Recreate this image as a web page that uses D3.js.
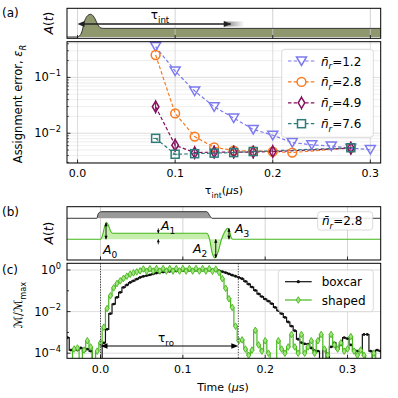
<!DOCTYPE html>
<html><head><meta charset="utf-8">
<script src="https://cdn.jsdelivr.net/npm/d3@7"></script>
<style>body{margin:0;background:#fff}svg{display:block;font-family:"DejaVu Sans",sans-serif}</style>
</head><body><svg id="c" width="398" height="398"></svg>
<script>
// ---------- DATA ----------
// Panel (a): assignment error vs integration time
const tauN12 = [0.08,0.10,0.12,0.14,0.16,0.18,0.20,0.22,0.24,0.26,0.28,0.30];
const errN12 = [0.356,0.130,0.057,0.0298,0.0187,0.0117,0.0092,0.0068,0.0062,0.0059,0.0054,0.0051];
const tauN28 = [0.08,0.10,0.12,0.14,0.16,0.18,0.20,0.22,0.28];
const errN28 = [0.252,0.0226,0.0087,0.0056,0.0049,0.0048,0.0047,0.0045,0.0055];
const tauN49 = [0.08,0.10,0.12,0.14,0.16,0.18,0.20,0.28];
const errN49 = [0.0298,0.0061,0.0045,0.0046,0.0046,0.0046,0.0047,0.0054];
const tauN76 = [0.08,0.10,0.12,0.14,0.16,0.18,0.28];
const errN76 = [0.0081,0.0042,0.0043,0.0044,0.0045,0.0047,0.0055];
const photonLabels = ["1.2","2.8","4.9","7.6"];
const xTicksA = [0.0,0.1,0.2,0.3];

// Panel (a) inset: pulse envelope A(t) (time in us, amplitude relative to plateau)
const pulseAT = [-0.011,0.0,0.002,0.004,0.0075,0.0105,0.0133,0.016,0.0177,0.021,0.0235,0.027,0.311];
const pulseAA = [0,0,0.15,0.46,1.95,2.5,2.64,2.45,2.15,1.38,1.07,1.0,1.0];

// Panel (b): boxcar and shaped drive envelopes
const boxT = [-0.041,-0.0046,-0.0025,0.0015,0.129,0.1335,0.1355,0.341];
const boxA = [0,0,0.75,1,1,0.25,0,0];
const shapeT = [-0.041,0.0,0.0025,0.005,0.0075,0.010,0.0125,0.015,0.129,0.1325,0.1355,0.139,0.1425,0.147,0.151,0.1545,0.157,0.159,0.161,0.341];
const shapeA = [0,0,0.7,2.1,2.77,2.2,1.3,1.0,1.0,0.0,-2.2,-3.1,-2.2,0.0,1.3,1.83,1.2,0.2,0,0];

// Panel (c): normalized measurement signal, log10(M/Mmax), sampled every 4 ns from -0.040 us
const tStart = -0.040, tStep = 0.004;
const boxcarLog = [
 -3.25,-3.85,-3.8,-3.85,-3.75,-3.9,-3.8,-3.9,-4.5,-4.5,
 -4.5,-3.5,-2.85,-2.1,-1.64,-1.32,-1.08,-0.84,-0.72,-0.6,
 -0.52,-0.44,-0.36,-0.31,-0.27,-0.23,-0.19,-0.15,-0.12,-0.10,
 -0.08,-0.07,-0.06,-0.05,-0.04,-0.03,-0.03,-0.02,-0.02,-0.01,
 -0.01,-0.01,0.0,0.0,0.0,0.0,-0.03,-0.08,-0.13,-0.19,
 -0.25,-0.30,-0.36,-0.42,-0.55,-0.68,-0.82,-0.98,-1.15,-1.28,
 -1.40,-1.50,-1.62,-1.80,-1.95,-2.10,-2.28,-2.50,-2.70,-2.92,
 -3.33,-3.49,-3.55,-3.57,-3.75,-3.88,-3.9,-4.5,-3.85,-4.5,
 -3.7,-3.5,-3.8,-3.6,-3.25,-3.3,-3.6,-3.85,-3.9,-3.9,
 -3.1,-3.1,-3.9,-4.5,-3.85,-3.9];
const shapedLog = [
 -4.5,-4.5,-3.8,-3.75,-4.5,-3.85,-3.4,-3.7,-4.5,-3.9,
 -3.5,-2.75,-1.85,-1.24,-0.86,-0.65,-0.52,-0.40,-0.30,-0.20,
 -0.14,-0.09,-0.04,0.05,-0.06,0.06,-0.05,0.07,-0.05,0.07,
 -0.05,0.07,-0.05,0.07,-0.05,0.07,-0.05,0.07,-0.05,0.07,
 -0.05,0.07,-0.05,0.06,-0.06,0.04,-0.12,-0.42,-0.88,-1.38,
 -1.8,-2.7,-3.4,-3.36,-3.8,-4.1,-3.85,-2.9,-3.6,-3.9,
 -3.4,-4.0,-4.5,-4.5,-3.4,-3.8,-4.0,-3.7,-3.1,-3.7,
 -4.0,-3.1,-4.0,-3.7,-3.4,-4.0,-3.4,-3.1,-3.8,-4.1,
 -3.1,-3.6,-3.8,-3.5,-3.9,-3.8,-3.2,-3.9,-4.1,-3.85,
 -4.1,-4.5,-4.5,-4.0,-4.5,-4.5];
const tauRo = 0.1674;
const xTicksC = [0.0,0.1,0.2,0.3];
const yTicksC = [0,-2,-4];

// ---------- DRAWING ----------
const svg = d3.select("#c");
const FONT = 11;
const grid = "#d4d4d4", gridMinor = "#e8e8e8";

function rich(sel, parts, fs){
  let off = 0;
  parts.forEach(p=>{
    const target = p.sub ? fs*0.32 : (p.sup ? -fs*0.45 : 0);
    const ts = sel.append("tspan").text(p.t).attr("dy", (target-off).toFixed(2))
      .attr("font-size", (p.sub||p.sup) ? fs*0.72 : fs);
    if (p.i) ts.attr("font-style","italic");
    off = target;
  });
  return sel;
}
function arrowHead(g, x, y, dir, L, W, color){
  let pts;
  if(dir==='l') pts=[[x,y],[x+L,y-W],[x+L,y+W]];
  if(dir==='r') pts=[[x,y],[x-L,y-W],[x-L,y+W]];
  if(dir==='u') pts=[[x,y],[x-W,y+L],[x+W,y+L]];
  if(dir==='d') pts=[[x,y],[x-W,y-L],[x+W,y-L]];
  g.append("path").attr("d","M"+pts.map(p=>p.join(",")).join("L")+"Z").attr("fill",color||"#000");
}
const defs = svg.append("defs");
function clip(id,x0,y0,x1,y1){
  defs.append("clipPath").attr("id",id).append("rect").attr("x",x0).attr("y",y0).attr("width",x1-x0).attr("height",y1-y0);
}

// ===== Panel (a) =====
const L = 67, R = 380.7;
const xA = d3.scaleLinear().domain([-0.0108,0.3106]).range([L,R]);
const ySA = d3.scaleLinear().domain([-0.15,3.33]).range([38.3,8.3]);
const yA = d3.scaleLog().domain([0.00293,0.436]).range([163,41.7]);
clip("clipS",L,8.3,R,38.3);
clip("clipA",L,41.7,R,163);

// inset strip
const gS = svg.append("g");
const strip = pulseAT.map((t,i)=>[t,pulseAA[i]]);
const gSc = gS.append("g").attr("clip-path","url(#clipS)");
gSc.append("path").datum(strip)
  .attr("d", d3.area().x(d=>xA(d[0])).y0(ySA(0)).y1(d=>ySA(d[1])).curve(d3.curveMonotoneX))
  .attr("fill","#8e986c");
gSc.selectAll(".vg").data(xTicksA).join("line")
  .attr("x1",d=>xA(d)).attr("x2",d=>xA(d)).attr("y1",8.3).attr("y2",38.3)
  .attr("stroke","#c8c8c8").attr("stroke-width",0.8);
gSc.append("path").datum(strip)
  .attr("d", d3.line().x(d=>xA(d[0])).y(d=>ySA(d[1])).curve(d3.curveMonotoneX))
  .attr("fill","none").attr("stroke","#222").attr("stroke-width",0.9);
const grad = defs.append("linearGradient").attr("id","fadeArr").attr("x1","0").attr("x2","1");
grad.append("stop").attr("offset","0").attr("stop-color","#222").attr("stop-opacity",1);
grad.append("stop").attr("offset","1").attr("stop-color","#222").attr("stop-opacity",0);
gS.append("line").attr("x1",xA(0)+2).attr("x2",xA(0.157)).attr("y1",24).attr("y2",24)
  .attr("stroke","#222").attr("stroke-width",1.3);
arrowHead(gS,xA(0),24,'l',7,3,"#222");
arrowHead(gS,xA(0.157),24,'r',7,3,"#222");
gS.append("rect").attr("x",xA(0.150)).attr("y",21.5).attr("width",xA(0.171)-xA(0.150)).attr("height",5)
  .attr("fill","url(#fadeArr)").attr("opacity",0.6);
rich(gS.append("text").attr("x",160).attr("y",19).attr("text-anchor","middle"),
  [{t:"τ"},{t:"int",sub:true}],12);
xTicksA.forEach(t=>gS.append("line").attr("x1",xA(t)).attr("x2",xA(t)).attr("y1",38.3).attr("y2",35).attr("stroke","#000").attr("stroke-width",0.8));
gS.append("rect").attr("x",L).attr("y",8.3).attr("width",R-L).attr("height",30).attr("fill","none").attr("stroke","#000").attr("stroke-width",1);
rich(svg.append("text").attr("transform","translate(53,23) rotate(-90)").attr("text-anchor","middle"),
  [{t:"A",i:true},{t:"(",},{t:"t",i:true},{t:")"}],12);

// main (a)
const gA = svg.append("g");
const minorA = [];
[0.001,0.01,0.1].forEach(b=>{for(let k=2;k<=9;k++){const v=b*k; if(v>=0.00293&&v<=0.436) minorA.push(v);}});
gA.selectAll(".hm").data(minorA).join("line")
  .attr("x1",L).attr("x2",R).attr("y1",d=>yA(d)).attr("y2",d=>yA(d)).attr("stroke",gridMinor).attr("stroke-width",0.7);
gA.selectAll(".hM").data([0.01,0.1]).join("line")
  .attr("x1",L).attr("x2",R).attr("y1",d=>yA(d)).attr("y2",d=>yA(d)).attr("stroke",grid).attr("stroke-width",0.8);
gA.selectAll(".vM").data(xTicksA).join("line")
  .attr("x1",d=>xA(d)).attr("x2",d=>xA(d)).attr("y1",41.7).attr("y2",163).attr("stroke",grid).attr("stroke-width",0.8);

const series = [
  {t:tauN12,v:errN12,c:"#7d7aef",m:"tri"},
  {t:tauN28,v:errN28,c:"#fa7a1e",m:"circ"},
  {t:tauN49,v:errN49,c:"#83115e",m:"dia"},
  {t:tauN76,v:errN76,c:"#2b7c7a",m:"sq"}
];
function marker(g,type,x,y,c){
  if(type==="tri") g.append("path").attr("d",`M${x-5},${y-4}L${x+5},${y-4}L${x},${y+4.5}Z`);
  if(type==="circ") g.append("circle").attr("cx",x).attr("cy",y).attr("r",4.4);
  if(type==="dia") { g.append("line").attr("x1",x).attr("x2",x).attr("y1",y-7).attr("y2",y+7).attr("stroke-width",1);
    g.append("path").attr("d",`M${x},${y-5.5}L${x+3.3},${y}L${x},${y+5.5}L${x-3.3},${y}Z`);}
  if(type==="sq") { g.append("line").attr("x1",x-2.5).attr("x2",x+2.5).attr("y1",y).attr("y2",y).attr("stroke-width",1);
    g.append("rect").attr("x",x-4).attr("y",y-4).attr("width",8).attr("height",8);}
}
const gAc = gA.append("g").attr("clip-path","url(#clipA)");
series.forEach(s=>{
  const pts = s.t.map((t,i)=>[t,s.v[i]]);
  gAc.append("path").datum(pts).attr("d",d3.line().x(d=>xA(d[0])).y(d=>yA(d[1])))
    .attr("fill","none").attr("stroke",s.c).attr("stroke-width",1.2).attr("stroke-dasharray","3.5,2.2");
});
series.forEach(s=>{
  const g = gA.append("g").attr("fill","none").attr("stroke",s.c).attr("stroke-width",1.5);
  s.t.forEach((t,i)=>marker(g,s.m,xA(t),yA(s.v[i]),s.c));
});
xTicksA.forEach(t=>gA.append("line").attr("x1",xA(t)).attr("x2",xA(t)).attr("y1",163).attr("y2",159.5).attr("stroke","#000").attr("stroke-width",0.8));
[0.01,0.1].forEach(v=>gA.append("line").attr("x1",L).attr("x2",L+3.5).attr("y1",yA(v)).attr("y2",yA(v)).attr("stroke","#000").attr("stroke-width",0.8));
minorA.forEach(v=>gA.append("line").attr("x1",L).attr("x2",L+2).attr("y1",yA(v)).attr("y2",yA(v)).attr("stroke","#000").attr("stroke-width",0.6));
gA.append("rect").attr("x",L).attr("y",41.7).attr("width",R-L).attr("height",163-41.7).attr("fill","none").attr("stroke","#000").attr("stroke-width",1);
xTicksA.forEach(t=>gA.append("text").attr("x",xA(t)).attr("y",177).attr("text-anchor","middle").attr("font-size",FONT).text(d3.format(".1f")(t)));
[[0.1,"−1"],[0.01,"−2"]].forEach(([v,e])=>{
  rich(gA.append("text").attr("x",61).attr("y",yA(v)+4).attr("text-anchor","end"),[{t:"10"},{t:e,sup:true}],FONT+0.5);
});
rich(svg.append("text").attr("x",224).attr("y",194).attr("text-anchor","middle"),
  [{t:"τ"},{t:"int",sub:true},{t:"("},{t:"μ",i:true},{t:"s)"}],FONT);
rich(svg.append("text").attr("transform","translate(22,104) rotate(-90)").attr("text-anchor","middle"),
  [{t:"Assignment error, "},{t:"ε",i:true},{t:"R",i:true,sub:true}],11.5);
svg.append("text").attr("x",2).attr("y",17).attr("font-size",12).text("(a)");

const lgA = svg.append("g");
lgA.append("rect").attr("x",281.7).attr("y",49.3).attr("width",91.6).attr("height",88).attr("rx",3)
  .attr("fill","#fff").attr("fill-opacity",0.85).attr("stroke","#d0d0d0").attr("stroke-width",0.8);
series.forEach((s,i)=>{
  const y = 61 + i*20.9;
  lgA.append("line").attr("x1",288).attr("x2",315).attr("y1",y).attr("y2",y)
    .attr("stroke",s.c).attr("stroke-width",1.2).attr("stroke-dasharray","3.5,2.2");
  const g = lgA.append("g").attr("fill","#fff").attr("stroke",s.c).attr("stroke-width",1.5);
  marker(g,s.m,301.5,y,s.c);
  rich(lgA.append("text").attr("x",321).attr("y",y+4.5),
    [{t:"n̄",i:true},{t:"r",i:true,sub:true},{t:"="+photonLabels[i]}],12);
});

// ===== Panel (b) =====
const xC = d3.scaleLinear().domain([-0.0407,0.3403]).range([L,R]);
const yB = d3.scaleLinear().domain([-3.45,5.43]).range([260,206.7]);
const bTop=206.7, bBot=260;
clip("clipB",L,bTop,R,bBot);
const gB = svg.append("g");
const gBc = gB.append("g").attr("clip-path","url(#clipB)");
gBc.selectAll(".vg").data(xTicksC).join("line")
  .attr("x1",d=>xC(d)).attr("x2",d=>xC(d)).attr("y1",bTop).attr("y2",bBot).attr("stroke","#c8c8c8").attr("stroke-width",0.8);
const boxOff = 3.5, boxAmp = 1.1;
const boxPts = boxT.map((t,i)=>[t,boxOff+boxAmp*boxA[i]]);
gBc.append("path").datum(boxPts).attr("d",d3.area().x(d=>xC(d[0])).y0(yB(boxOff)).y1(d=>yB(d[1])).curve(d3.curveMonotoneX))
  .attr("fill","#9a9a9a");
gBc.append("path").datum(boxPts).attr("d",d3.line().x(d=>xC(d[0])).y(d=>yB(d[1])).curve(d3.curveMonotoneX))
  .attr("fill","none").attr("stroke","#222").attr("stroke-width",0.9);
const shPts = shapeT.map((t,i)=>[t,shapeA[i]]);
gBc.append("path").datum(shPts).attr("d",d3.area().x(d=>xC(d[0])).y0(yB(0)).y1(d=>yB(d[1])).curve(d3.curveMonotoneX))
  .attr("fill","#c6efae");
gBc.append("path").datum(shPts).attr("d",d3.line().x(d=>xC(d[0])).y(d=>yB(d[1])).curve(d3.curveMonotoneX))
  .attr("fill","none").attr("stroke","#45b71c").attr("stroke-width",1.1);
function dblArrow(x,y1,y2){
  gB.append("line").attr("x1",x).attr("x2",x).attr("y1",y1).attr("y2",y2).attr("stroke","#000").attr("stroke-width",0.9);
  const up = y1<y2;
  arrowHead(gB,x,y1,up?'u':'d',3.5,1.6);
  arrowHead(gB,x,y2,up?'d':'u',3.5,1.6);
}
dblArrow(xC(0.0067),yB(2.77),yB(0));
dblArrow(xC(0.140),yB(0),yB(-3.1));
dblArrow(xC(0.156),yB(1.83),yB(0));
const xA1 = xC(0.0702);
gB.append("line").attr("x1",xA1).attr("x2",xA1).attr("y1",yB(1)-5).attr("y2",yB(1)).attr("stroke","#000").attr("stroke-width",0.8);
arrowHead(gB,xA1,yB(1),'d',3,1.5);
gB.append("line").attr("x1",xA1).attr("x2",xA1).attr("y1",yB(0)+5).attr("y2",yB(0)).attr("stroke","#000").attr("stroke-width",0.8);
arrowHead(gB,xA1,yB(0),'u',3,1.5);
rich(gB.append("text").attr("x",103).attr("y",254),[{t:"A",i:true},{t:"0",sub:true}],12.5);
rich(gB.append("text").attr("x",161).attr("y",230),[{t:"A",i:true},{t:"1",sub:true}],12.5);
rich(gB.append("text").attr("x",193).attr("y",253),[{t:"A",i:true},{t:"2",sub:true}],12.5);
rich(gB.append("text").attr("x",235).attr("y",233),[{t:"A",i:true},{t:"3",sub:true}],12.5);
xTicksC.forEach(t=>gB.append("line").attr("x1",xC(t)).attr("x2",xC(t)).attr("y1",bBot).attr("y2",bBot-3.5).attr("stroke","#000").attr("stroke-width",0.8));
gB.append("rect").attr("x",317.7).attr("y",211.7).attr("width",55).attr("height",18.3).attr("rx",3)
  .attr("fill","#fff").attr("fill-opacity",0.85).attr("stroke","#d0d0d0").attr("stroke-width",0.8);
rich(gB.append("text").attr("x",322).attr("y",225),[{t:"n̄",i:true},{t:"r",i:true,sub:true},{t:"=2.8"}],12);
gB.append("rect").attr("x",L).attr("y",bTop).attr("width",R-L).attr("height",bBot-bTop).attr("fill","none").attr("stroke","#000").attr("stroke-width",1);
rich(svg.append("text").attr("transform","translate(53,233) rotate(-90)").attr("text-anchor","middle"),
  [{t:"A",i:true},{t:"("},{t:"t",i:true},{t:")"}],12);
svg.append("text").attr("x",2).attr("y",216).attr("font-size",12).text("(b)");

// ===== Panel (c) =====
const cTop=263.3, cBot=358.3;
const yC = d3.scaleLog().domain([Math.pow(10,-4.245),Math.pow(10,0.322)]).range([cBot,cTop]);
clip("clipC",L,cTop,R,cBot);
const gC = svg.append("g");
const gCc = gC.append("g").attr("clip-path","url(#clipC)");
gCc.selectAll(".hg").data(yTicksC).join("line")
  .attr("x1",L).attr("x2",R).attr("y1",d=>yC(Math.pow(10,d))).attr("y2",d=>yC(Math.pow(10,d))).attr("stroke",grid).attr("stroke-width",0.8);
gCc.selectAll(".vg").data(xTicksC).join("line")
  .attr("x1",d=>xC(d)).attr("x2",d=>xC(d)).attr("y1",cTop).attr("y2",cBot).attr("stroke",grid).attr("stroke-width",0.8);
const boxSig = boxcarLog.map((v,i)=>[tStart+i*tStep,Math.pow(10,v)]);
const shSig = shapedLog.map((v,i)=>[tStart+i*tStep,Math.pow(10,v)]);
const stepLine = d3.line().x(d=>xC(d[0])).y(d=>yC(d[1])).curve(d3.curveStep);
gCc.append("path").datum(boxSig).attr("d",stepLine).attr("fill","none").attr("stroke","#111").attr("stroke-width",1.2);
gCc.selectAll(".bd").data(boxSig).join("circle").attr("cx",d=>xC(d[0])).attr("cy",d=>yC(d[1])).attr("r",1.4).attr("fill","#111");
gCc.append("path").datum(shSig).attr("d",stepLine).attr("fill","none").attr("stroke","#46b81d").attr("stroke-width",1.2);
const dia = (x,y)=>`M${x},${y-3.3}L${x+2},${y}L${x},${y+3.3}L${x-2},${y}Z`;
gCc.selectAll(".sd").data(shSig).join("path").attr("d",d=>dia(xC(d[0]),yC(d[1])))
  .attr("fill","#a5e283").attr("stroke","#46b81d").attr("stroke-width",0.9);
[0,tauRo].forEach(t=>gC.append("line").attr("x1",xC(t)).attr("x2",xC(t)).attr("y1",cTop).attr("y2",cBot)
  .attr("stroke","#333").attr("stroke-width",0.9).attr("stroke-dasharray","1.3,1.3"));
gC.append("line").attr("x1",xC(0)+3).attr("x2",xC(tauRo)-3).attr("y1",346).attr("y2",346).attr("stroke","#000").attr("stroke-width",1);
arrowHead(gC,xC(0),346,'l',7,2.8);
arrowHead(gC,xC(tauRo),346,'r',7,2.8);
rich(gC.append("text").attr("x",166).attr("y",342).attr("text-anchor","middle"),[{t:"τ"},{t:"ro",sub:true}],12);
xTicksC.forEach(t=>gC.append("line").attr("x1",xC(t)).attr("x2",xC(t)).attr("y1",cBot).attr("y2",cBot-3.5).attr("stroke","#000").attr("stroke-width",0.8));
[0,-1,-2,-3,-4].forEach(e=>gC.append("line").attr("x1",L).attr("x2",L+(e%2===0?3.5:2)).attr("y1",yC(Math.pow(10,e))).attr("y2",yC(Math.pow(10,e))).attr("stroke","#000").attr("stroke-width",0.8));
gC.append("rect").attr("x",L).attr("y",cTop).attr("width",R-L).attr("height",cBot-cTop).attr("fill","none").attr("stroke","#000").attr("stroke-width",1);
xTicksC.forEach(t=>gC.append("text").attr("x",xC(t)).attr("y",373).attr("text-anchor","middle").attr("font-size",FONT).text(d3.format(".1f")(t)));
yTicksC.forEach(e=>{
  rich(gC.append("text").attr("x",61).attr("y",yC(Math.pow(10,e))+4).attr("text-anchor","end"),
    [{t:"10"},{t:(e===0?"0":"−"+(-e)),sup:true}],FONT+0.5);
});
svg.append("text").attr("x",223).attr("y",391).attr("text-anchor","middle").attr("font-size",FONT)
  .call(s=>rich(s,[{t:"Time ("},{t:"μ",i:true},{t:"s)"}],FONT));
rich(svg.append("text").attr("transform","translate(22,305) rotate(-90)").attr("text-anchor","middle"),
  [{t:"ℳ",i:true},{t:"/"},{t:"ℳ",i:true},{t:"max",sub:true}],11.5);
svg.append("text").attr("x",2).attr("y",274).attr("font-size",12).text("(c)");
const lgC = svg.append("g");
lgC.append("rect").attr("x",278.3).attr("y",270).attr("width",95).attr("height",41.7).attr("rx",3)
  .attr("fill","#fff").attr("fill-opacity",0.85).attr("stroke","#d0d0d0").attr("stroke-width",0.8);
lgC.append("line").attr("x1",285).attr("x2",311.7).attr("y1",281.7).attr("y2",281.7).attr("stroke","#111").attr("stroke-width",1.2);
lgC.append("circle").attr("cx",298.3).attr("cy",281.7).attr("r",1.6).attr("fill","#111");
lgC.append("text").attr("x",321.7).attr("y",286).attr("font-size",12).text("boxcar");
lgC.append("line").attr("x1",285).attr("x2",311.7).attr("y1",300).attr("y2",300).attr("stroke","#46b81d").attr("stroke-width",1.2);
lgC.append("path").attr("d",dia(298.3,300)).attr("fill","#a5e283").attr("stroke","#46b81d").attr("stroke-width",0.9);
lgC.append("text").attr("x",321.7).attr("y",304.5).attr("font-size",12).text("shaped");
</script></body></html>
